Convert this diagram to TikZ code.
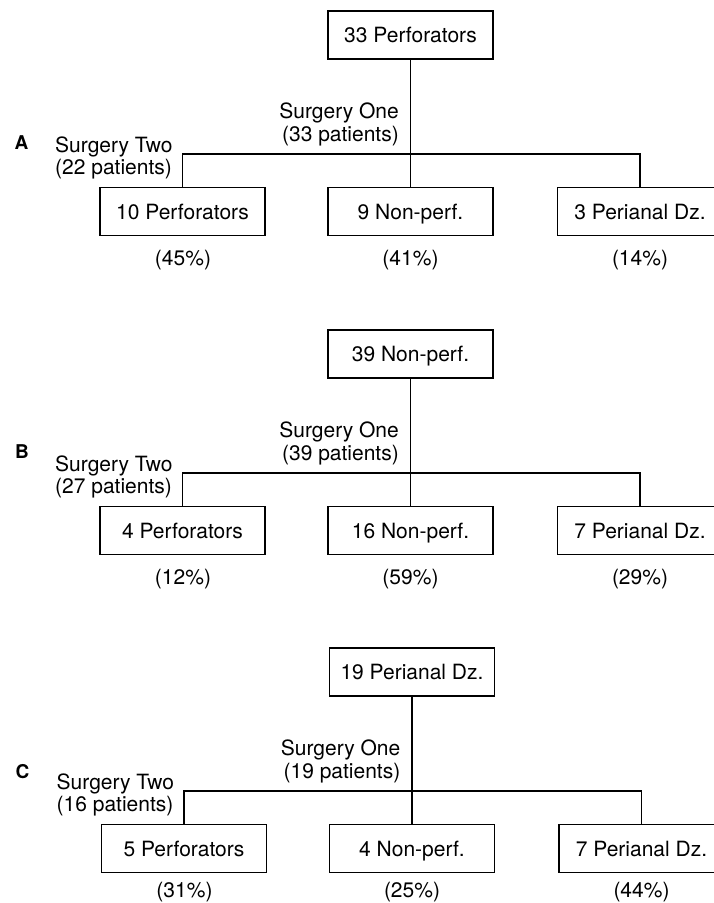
\documentclass[tikz,border=0pt]{standalone}
\usepackage{fontspec}
\setmainfont{TeX Gyre Heros}
\begin{document}
\begin{tikzpicture}[x=1pt,y=-1pt,
  txt/.style={font=\fontsize{21}{23}\selectfont, inner sep=0pt},
  box/.style={txt, draw, line width=1.7pt, minimum width=165pt, minimum height=48pt,
              text height=15pt, text depth=0pt},
  conn/.style={line width=1.1pt},
  letter/.style={font=\fontsize{19}{19}\selectfont\bfseries, inner sep=0pt, anchor=base}]
\useasboundingbox (0,0) rectangle (713,903);
\fill[white] (0,0) rectangle (713,903);

% ---------- Panel A ----------
\node[letter] (labA) at (21.5,149) {A};
\node[box] (tA) at (410.5,35) {33 Perforators};
\node[box] (lA) at (182.5,211.5) {10 Perforators};
\node[box] (mA) at (410.5,211.5) {9 Non-perf.};
\node[box] (rA) at (640,211.5) {3 Perianal Dz.};
\coordinate (hA) at (410.5,154);
\draw[conn] (tA.south) -- (mA.north);
\draw[conn] (lA.north) |- (hA) -| (rA.north);
\node[txt, anchor=base east] (s1aA) at (399,118) {Surgery One};
\node[txt, anchor=base east] (s1bA) at (399,141) {(33 patients)};
\node[txt, anchor=base west] (s2aA) at (55,152) {Surgery Two};
\node[txt, anchor=base west] (s2bA) at (55,174) {(22 patients)};
\node[txt, anchor=base] (plA) at (183,265) {(45\%)};
\node[txt, anchor=base] (pmA) at (410.5,265) {(41\%)};
\node[txt, anchor=base] (prA) at (640,265) {(14\%)};

% ---------- Panel B ----------
\node[letter] (labB) at (22,458) {B};
\begin{scope}[yshift=-319pt]
\node[box] (tB) at (410.5,35) {39 Non-perf.};
\node[box] (lB) at (182.5,211.5) {4 Perforators};
\node[box] (mB) at (410.5,211.5) {16 Non-perf.};
\node[box] (rB) at (640,211.5) {7 Perianal Dz.};
\coordinate (hB) at (410.5,154);
\draw[conn] (tB.south) -- (mB.north);
\draw[conn] (lB.north) |- (hB) -| (rB.north);
\node[txt, anchor=base east] (s1aB) at (399,118) {Surgery One};
\node[txt, anchor=base east] (s1bB) at (399,141) {(39 patients)};
\node[txt, anchor=base west] (s2aB) at (55,152) {Surgery Two};
\node[txt, anchor=base west] (s2bB) at (55,174) {(27 patients)};
\node[txt, anchor=base] (plB) at (183,265) {(12\%)};
\node[txt, anchor=base] (pmB) at (410.5,265) {(59\%)};
\node[txt, anchor=base] (prB) at (640,265) {(29\%)};
\end{scope}

% ---------- Panel C ----------
\node[letter] (labC) at (22.5,778) {C};
\begin{scope}[yshift=-637pt, xshift=1.5pt]
\node[box] (tC) at (410.5,35) {19 Perianal Dz.};
\node[box] (lC) at (182.5,211.5) {5 Perforators};
\node[box] (mC) at (410.5,211.5) {4 Non-perf.};
\node[box] (rC) at (640,211.5) {7 Perianal Dz.};
\coordinate (hC) at (410.5,154);
\draw[conn] (tC.south) -- (mC.north);
\draw[conn] (lC.north) |- (hC) -| (rC.north);
\node[txt, anchor=base east] (s1aC) at (399,118) {Surgery One};
\node[txt, anchor=base east] (s1bC) at (399,141) {(19 patients)};
\node[txt, anchor=base west] (s2aC) at (55,152) {Surgery Two};
\node[txt, anchor=base west] (s2bC) at (55,174) {(16 patients)};
\node[txt, anchor=base] (plC) at (183,260) {(31\%)};
\node[txt, anchor=base] (pmC) at (410.5,260) {(25\%)};
\node[txt, anchor=base] (prC) at (640,260) {(44\%)};
\end{scope}
\end{tikzpicture}
\end{document}
